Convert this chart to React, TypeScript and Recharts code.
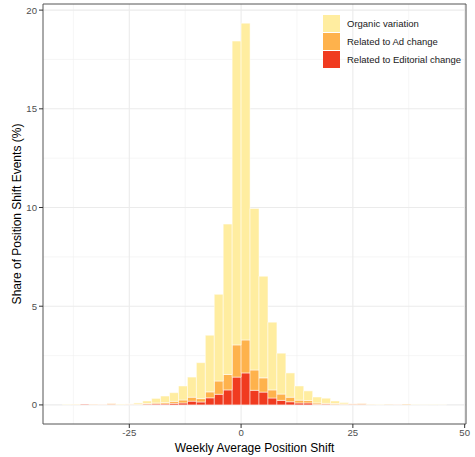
import { Bar, BarChart, CartesianGrid, Legend, ReferenceArea, XAxis, YAxis } from 'recharts';

// bin centres of the 2-unit histogram bins
const binCenters = [
  -39, -37, -35, -33, -31, -29, -27, -25, -23, -21, -19, -17, -15, -13, -11, -9, -7, -5, -3, -1,
  1, 3, 5, 7, 9, 11, 13, 15, 17, 19, 21, 23, 25, 27, 29, 31, 33, 35, 37, 39, 41, 43, 45,
];

// share of events (%) per bin, one array per stack layer
const editorial = [
  0, 0, 0.03, 0.01, 0.02, 0.03, 0, 0.03, 0.02, 0.04, 0.05, 0.05, 0.08, 0.1, 0.19, 0.15, 0.36, 0.54, 0.76, 1.41,
  1.62, 0.74, 0.65, 0.35, 0.23, 0.16, 0.1, 0.1, 0.03, 0.04, 0.02, 0.02, 0.03, 0.03, 0, 0, 0, 0.02, 0, 0, 0, 0, 0,
];
const adChange = [
  0, 0.03, 0, 0.02, 0.01, 0.03, 0.01, 0.01, 0.02, 0.03, 0.05, 0.07, 0.1, 0.15, 0.2, 0.17, 0.3, 0.67, 0.78, 1.63,
  1.67, 1.03, 0.72, 0.41, 0.32, 0.23, 0.14, 0.12, 0.07, 0.04, 0.05, 0.03, 0.02, 0.03, 0.03, 0.01, 0.02, 0.01, 0.03, 0, 0, 0, 0,
];
const organic = [
  0.02, 0.01, 0, 0, 0, 0, 0.03, 0.01, 0.06, 0.13, 0.23, 0.33, 0.44, 0.71, 1.02, 1.82, 2.87, 4.39, 7.62, 15.39,
  16.05, 8.18, 5.15, 3.43, 2.07, 1.23, 0.72, 0.49, 0.3, 0.26, 0.13, 0.07, 0, 0, 0.01, 0.02, 0, 0, 0, 0.02, 0.01, 0.02, 0.01,
];

const xTicks = [-25, 0, 25, 50];
const yTicks = [0, 5, 10, 15, 20];
const xMinor = [-37.5, -12.5, 12.5, 37.5];
const yMinor = [2.5, 7.5, 12.5, 17.5];

const series = [
  { key: 'organic', name: 'Organic variation', color: '#FFEDA0' },
  { key: 'ad', name: 'Related to Ad change', color: '#FEB24C' },
  { key: 'editorial', name: 'Related to Editorial change', color: '#F03B20' },
];

const data = binCenters.map((x, i) => ({
  x,
  editorial: editorial[i],
  ad: adChange[i],
  organic: organic[i],
}));

const X_DOMAIN: [number, number] = [-44.3, 50.3];
const Y_DOMAIN: [number, number] = [-0.967, 20.31];

function LegendBox() {
  return (
    <div>
      {series.map((s) => (
        <div key={s.key} style={{ display: 'flex', alignItems: 'center', height: 18 }}>
          <div style={{ width: 17, height: 17, background: s.color }} />
          <span style={{ marginLeft: 7, fontSize: 9.5, color: '#1a1a1a', whiteSpace: 'nowrap' }}>{s.name}</span>
        </div>
      ))}
    </div>
  );
}

export default function App() {
  return (
    <div
      style={{
        position: 'absolute',
        left: 0,
        top: 0,
        width: 475,
        height: 457,
        background: '#fff',
        fontFamily: '"Liberation Sans", Arial, sans-serif',
      }}
    >
      <BarChart
        width={475}
        height={457}
        data={data}
        margin={{ top: 4, right: 9, bottom: 0, left: 0 }}
        barCategoryGap={0}
        barGap={0}
      >
        {/* minor grid */}
        <CartesianGrid
          stroke="#f0f0f0"
          strokeWidth={0.6}
          horizontalValues={yMinor}
          verticalValues={xMinor}
        />
        {/* major grid */}
        <CartesianGrid
          stroke="#ebebeb"
          strokeWidth={1.1}
          horizontalValues={yTicks}
          verticalValues={xTicks}
        />
        <XAxis
          dataKey="x"
          type="number"
          domain={X_DOMAIN}
          allowDataOverflow
          ticks={xTicks}
          interval={0}
          axisLine={false}
          tickSize={4}
          tickMargin={1}
          tickLine={{ stroke: '#333' }}
          tick={{ fontSize: 9.6, fill: '#4d4d4d' }}
          height={33}
          label={{ value: 'Weekly Average Position Shift', position: 'insideBottom', offset: 5, fontSize: 12, fill: '#000' }}
        />
        <YAxis
          type="number"
          domain={Y_DOMAIN}
          allowDataOverflow
          ticks={yTicks}
          interval={0}
          axisLine={false}
          tickSize={4}
          tickMargin={2}
          tickLine={{ stroke: '#333' }}
          tick={{ fontSize: 9.6, fill: '#4d4d4d' }}
          width={43}
          label={{
            value: 'Share of Position Shift Events (%)',
            angle: -90,
            position: 'insideLeft',
            offset: 17,
            fontSize: 12,
            fill: '#000',
            style: { textAnchor: 'middle' },
          }}
        />
        <Bar dataKey="editorial" name="Related to Editorial change" stackId="a" fill="#F03B20" stroke="#fff" strokeWidth={0.5} isAnimationActive={false} />
        <Bar dataKey="ad" name="Related to Ad change" stackId="a" fill="#FEB24C" stroke="#fff" strokeWidth={0.5} isAnimationActive={false} />
        <Bar dataKey="organic" name="Organic variation" stackId="a" fill="#FFEDA0" stroke="#fff" strokeWidth={0.5} isAnimationActive={false} />
        <ReferenceArea
          x1={X_DOMAIN[0]}
          x2={X_DOMAIN[1]}
          y1={Y_DOMAIN[0]}
          y2={Y_DOMAIN[1]}
          fill="none"
          fillOpacity={0}
          stroke="#555"
          strokeWidth={1}
          ifOverflow="visible"
        />
        <Legend
          layout="vertical"
          align="center"
          verticalAlign="middle"
          content={() => <LegendBox />}
          wrapperStyle={{ left: 323, top: 14, width: 'auto', height: 'auto' }}
        />
      </BarChart>
    </div>
  );
}
